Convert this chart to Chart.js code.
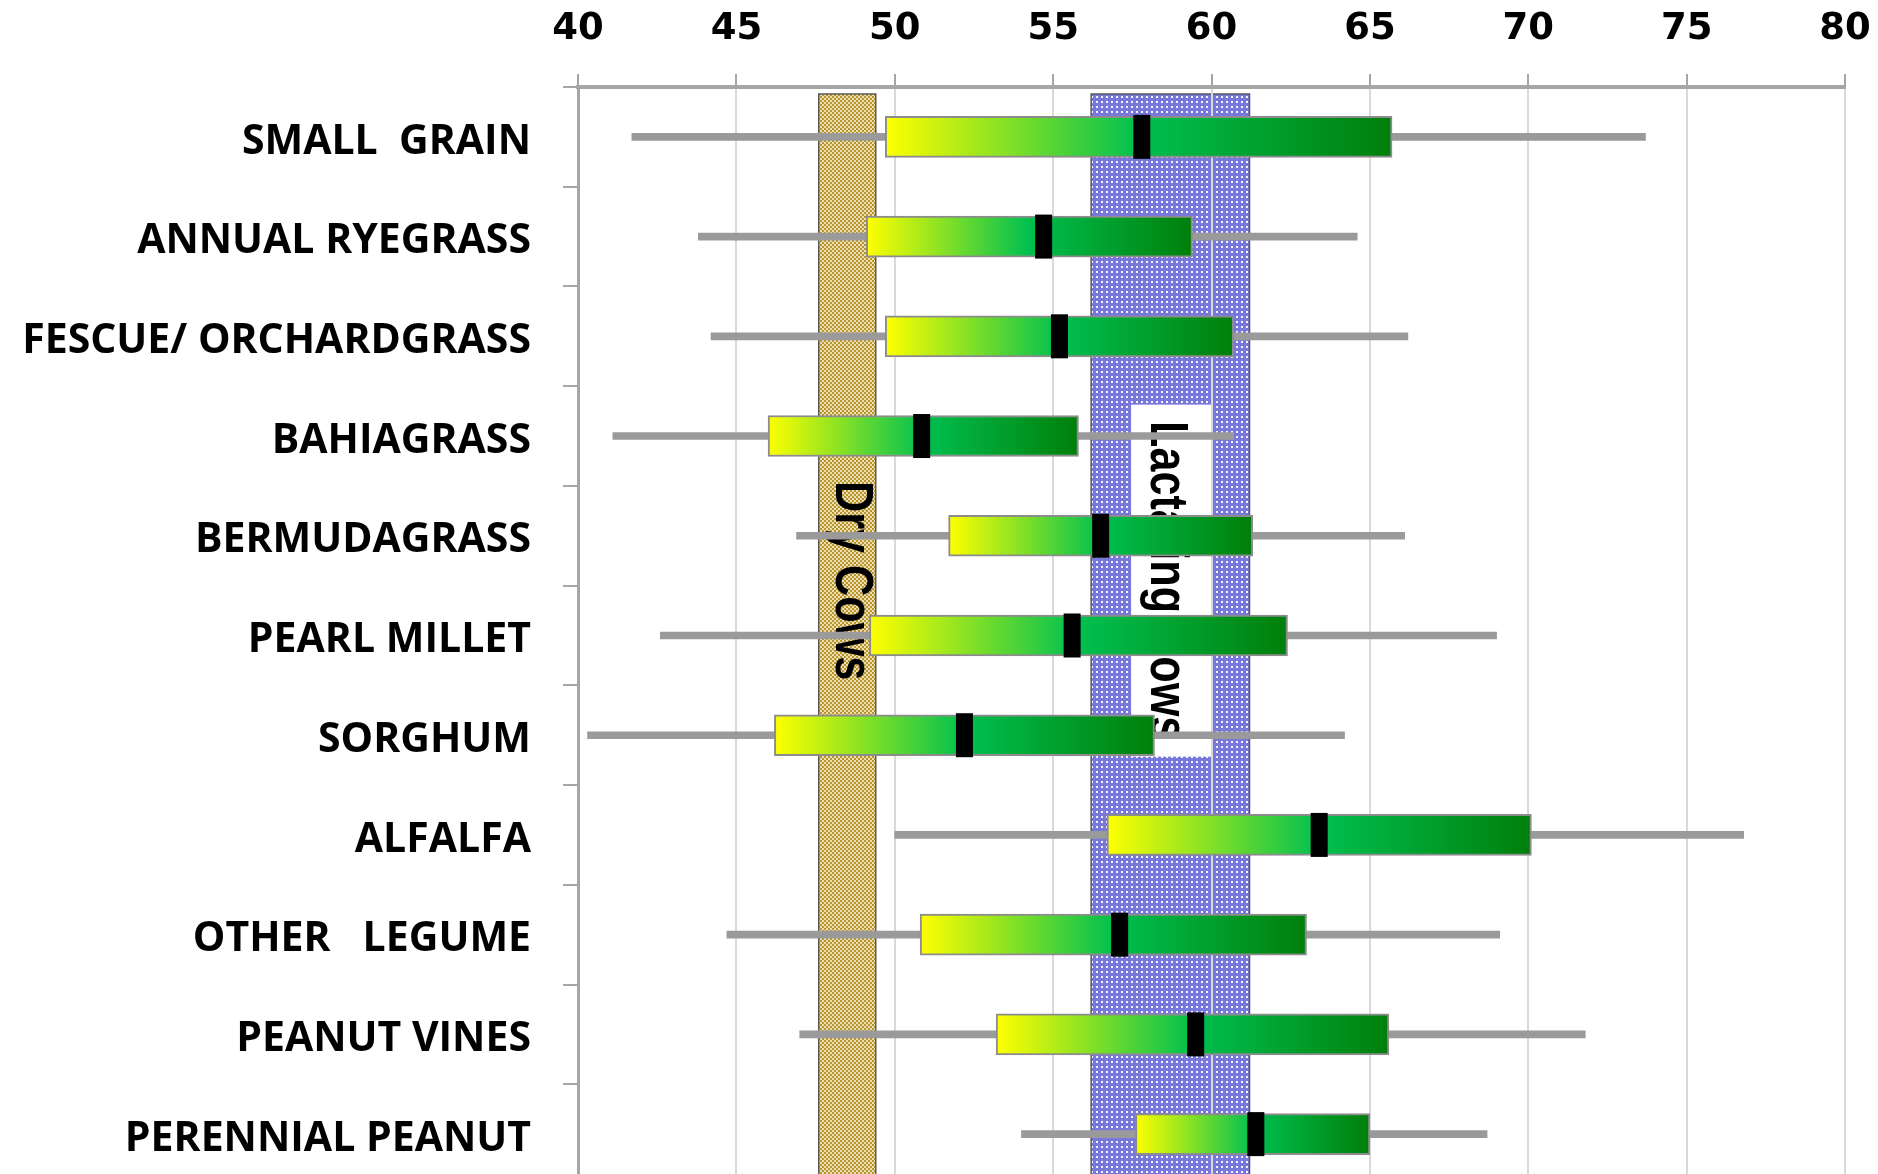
<!DOCTYPE html>
<html>
<head>
<meta charset="utf-8">
<script src="https://cdn.jsdelivr.net/npm/chart.js@4.4.0/dist/chart.umd.min.js"></script>
<style>
  html, body { margin: 0; padding: 0; background: #fff; overflow: hidden; }
  canvas { display: block; }
</style>
</head>
<body>
<canvas id="chart" width="1878" height="1174"></canvas>
<script>
// forage types, top to bottom
const forages = ['SMALL  GRAIN', 'ANNUAL RYEGRASS', 'FESCUE/ ORCHARDGRASS', 'BAHIAGRASS', 'BERMUDAGRASS',
  'PEARL MILLET', 'SORGHUM', 'ALFALFA', 'OTHER   LEGUME', 'PEANUT VINES', 'PERENNIAL PEANUT']

// whisker ends, box edges and median
const lowValues    = [41.7, 43.8, 44.2, 41.1, 46.9, 42.6, 40.3, 50.0, 44.7, 47.0, 54.0]
const q1Values     = [49.7, 49.1, 49.7, 46.0, 51.7, 49.2, 46.2, 56.7, 50.8, 53.2, 57.6]
const medianValues = [57.8, 54.7, 55.2, 50.85, 56.5, 55.6, 52.2, 63.4, 57.1, 59.5, 61.4]
const q3Values     = [65.7, 59.4, 60.7, 55.8, 61.3, 62.4, 58.2, 70.1, 63.0, 65.6, 65.0]
const highValues   = [73.7, 64.6, 66.2, 60.7, 66.1, 69.0, 64.2, 76.8, 69.1, 71.8, 68.7]

// x axis
const xMin = 40
const xMax = 80
const xStep = 5

// requirement ranges
const dryCows = [47.6, 49.4]
const lactatingCows = [56.2, 61.2]
const bandLabels = ['Dry Cows', 'Lactating Cows']

const checker = (ctx) => {
  const c = document.createElement('canvas')
  c.width = 4; c.height = 4
  const p = c.getContext('2d')
  p.fillStyle = '#ecdfb4'
  p.fillRect(0, 0, 4, 4)
  p.fillStyle = '#b8942c'
  p.fillRect(0, 0, 2, 2)
  p.fillRect(2, 2, 2, 2)
  return ctx.createPattern(c, 'repeat')
}

const dots = (ctx) => {
  const c = document.createElement('canvas')
  c.width = 5; c.height = 5
  const p = c.getContext('2d')
  p.fillStyle = '#7878dc'
  p.fillRect(0, 0, 5, 5)
  p.fillStyle = '#f4f4ff'
  p.fillRect(1, 1, 2, 2)
  return ctx.createPattern(c, 'repeat')
}

const verticalText = (ctx, text, baseX, midY) => {
  ctx.save()
  ctx.translate(baseX, midY)
  ctx.rotate(Math.PI / 2)
  ctx.scale(0.8, 1)
  ctx.font = 'bold 54px "Liberation Sans", Arial, sans-serif'
  ctx.fillStyle = '#000'
  ctx.textAlign = 'center'
  ctx.textBaseline = 'alphabetic'
  ctx.fillText(text, 0, 0)
  ctx.restore()
}

const bandsPlugin = {
  id: 'cowBands',
  beforeDraw(chart) {
    const { ctx, chartArea, scales: { x, y } } = chart
    const top = chartArea.top + 7
    const bottom = chartArea.bottom + 20
    const midY = y.getPixelForValue(4.45)

    const d0 = x.getPixelForValue(dryCows[0])
    const d1 = x.getPixelForValue(dryCows[1])
    const l0 = x.getPixelForValue(lactatingCows[0])
    const l1 = x.getPixelForValue(lactatingCows[1])

    ctx.save()
    ctx.fillStyle = checker(ctx)
    ctx.fillRect(d0, top, d1 - d0, bottom - top)
    ctx.fillStyle = dots(ctx)
    ctx.fillRect(l0, top, l1 - l0, bottom - top)
    ctx.strokeStyle = '#5a5a5a'
    ctx.lineWidth = 1.5
    ctx.strokeRect(d0, top, d1 - d0, bottom - top)
    ctx.strokeRect(l0, top, l1 - l0, bottom - top)

    // white box behind the lactating label
    ctx.fillStyle = '#fff'
    ctx.fillRect(l0 + 40, midY - 176, x.getPixelForValue(60) - l0 - 40, 352)
    ctx.restore()

    verticalText(ctx, bandLabels[0], d1 - 40, midY)
    verticalText(ctx, bandLabels[1], l0 + 60, midY)
  }
}

// box gradient, yellow -> green -> dark green
const boxFill = (c) => {
  const chart = c.chart
  if (c.type !== 'data' || !chart.chartArea) return '#00b050'
  const x = chart.scales.x
  const x0 = x.getPixelForValue(q1Values[c.dataIndex])
  const x1 = x.getPixelForValue(q3Values[c.dataIndex])
  const g = chart.ctx.createLinearGradient(x0, 0, x1, 0)
  g.addColorStop(0, '#ffff00')
  g.addColorStop(0.5, '#00c050')
  g.addColorStop(1, '#007f0a')
  return g
}

// y ticks: labels on whole numbers, small marks between rows
const yTicks = []
for (let i = -0.5; i <= forages.length - 0.5; i += 0.5) yTicks.push({ value: i })

const ctx = document.getElementById('chart')

new Chart(ctx, {
  type: 'bar',
  data: {
    datasets: [
      {
        type: 'scatter',
        label: 'median',
        data: medianValues.map((m, i) => ({ x: m, y: i })),
        pointStyle: 'line',
        rotation: 90,
        radius: 22,
        hoverRadius: 22,
        borderWidth: 17,
        borderColor: '#000',
        backgroundColor: '#000',
        order: 1
      },
      {
        label: 'box',
        indexAxis: 'y',
        data: q1Values.map((q, i) => ({ x: [q, q3Values[i]], y: i })),
        backgroundColor: boxFill,
        borderColor: '#8c8c8c',
        borderWidth: 2,
        borderSkipped: false,
        barThickness: 41,
        grouped: false,
        order: 2
      },
      {
        label: 'range',
        indexAxis: 'y',
        data: lowValues.map((lo, i) => ({ x: [lo, highValues[i]], y: i })),
        backgroundColor: '#9a9a9a',
        borderWidth: 0,
        barThickness: 7,
        grouped: false,
        order: 3
      }
    ]
  },
  options: {
    responsive: false,
    animation: false,
    devicePixelRatio: 1,
    layout: { autoPadding: false, padding: { left: 0, right: 33, top: 0, bottom: 0 } },
    plugins: {
      legend: { display: false },
      tooltip: { enabled: false }
    },
    scales: {
      x: {
        type: 'linear',
        position: 'top',
        offset: false,
        min: xMin,
        max: xMax,
        ticks: {
          stepSize: xStep,
          padding: 22,
          color: '#000',
          font: { family: '"DejaVu Sans"', size: 37, weight: 'bold' }
        },
        grid: {
          offset: false,
          color: '#d9d9d9',
          lineWidth: 2,
          tickLength: 13,
          tickColor: '#a6a6a6',
          tickWidth: 2
        },
        border: { color: '#a6a6a6', width: 4 },
        afterFit: (s) => { s.height = 87; s.paddingLeft = 0; s.paddingRight = 0 }
      },
      y: {
        type: 'linear',
        reverse: true,
        offset: false,
        min: -0.5,
        max: 10.4,
        afterBuildTicks: (s) => { s.ticks = yTicks.map(t => ({ ...t })) },
        ticks: {
          autoSkip: false,
          padding: 32,
          labelOffset: 5,
          color: '#000',
          font: { family: '"Open Sans"', size: 41, weight: 'bold' },
          callback: (v) => Number.isInteger(v) && v >= 0 ? forages[v] : ''
        },
        grid: {
          offset: false,
          drawOnChartArea: false,
          tickLength: 15,
          lineWidth: 2,
          color: (c) => (c.tick && !Number.isInteger(c.tick.value)) ? '#a6a6a6' : 'rgba(0,0,0,0)'
        },
        border: { color: '#a6a6a6', width: 3 },
        afterFit: (s) => { s.width = 578; s.paddingTop = 0; s.paddingBottom = 0 }
      }
    }
  },
  plugins: [bandsPlugin]
})
</script>
</body>
</html>
